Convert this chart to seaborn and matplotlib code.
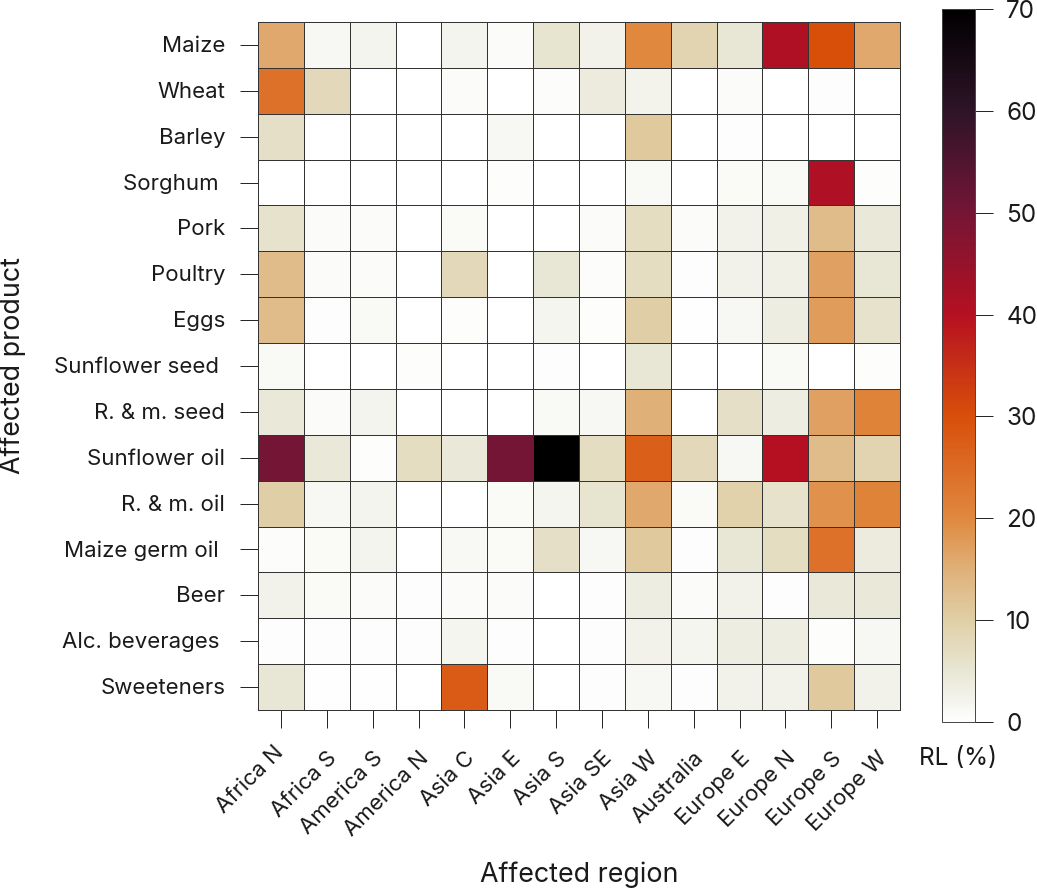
"""
Heatmap of relative losses (RL) per affected product and affected region.
"""

import numpy as np
import pandas as pd
import matplotlib
matplotlib.use("Agg")
import matplotlib.pyplot as plt
from matplotlib.colors import LinearSegmentedColormap
from matplotlib.transforms import ScaledTranslation
import seaborn as sns

W, H = 1037, 889

regions = ["Africa N", "Africa S", "America S", "America N", "Asia C", "Asia E", "Asia S",
           "Asia SE", "Asia W", "Australia", "Europe E", "Europe N", "Europe S", "Europe W"]
products = ["Maize", "Wheat", "Barley", "Sorghum ", "Pork", "Poultry", "Eggs", "Sunflower seed ",
            "R. & m. seed", "Sunflower oil", "R. & m. oil", "Maize germ oil ", "Beer",
            "Alc. beverages ", "Sweeteners"]

maize = [16, 1.5, 2, 0, 2, 0.7, 5.5, 2.5, 20, 9, 5, 41, 30, 16]
wheat = [24, 8, 0, 0, 0.8, 0, 0.6, 4, 2.2, 0, 0.7, 0, 0.3, 0]
barley = [6.5, 0, 0, 0, 0, 1.5, 0, 0, 11, 0, 0.4, 0, 0, 0]
sorghum = [0, 0, 0, 0, 0, 0.5, 0, 0, 1.2, 0, 1, 1.2, 41, 0.5]
pork = [6, 0.8, 0.8, 0, 1, 0, 0, 0.7, 7, 0.7, 2.5, 3, 13, 4.5]
poultry = [13, 0.8, 0.8, 0, 8, 0, 5, 0.6, 7, 0.3, 2.5, 3, 17, 5]
eggs = [13, 0.4, 1.2, 0, 0.5, 0, 1.8, 0.5, 10, 0.2, 1.5, 3.5, 17.5, 6]
sunflower_seed = [1.2, 0, 0, 0.5, 0, 0, 0.4, 0, 5, 0, 0, 1.2, 0, 0.5]
rm_seed = [4.5, 0.7, 2, 0, 0, 0, 1.2, 1.5, 15, 0, 6.5, 3.5, 17, 21]
sunflower_oil = [50, 4.5, 0.5, 7, 4.5, 50, 70, 7, 27, 8, 1.5, 40, 13, 9]
rm_oil = [10, 1.5, 2, 0, 0, 1, 1.8, 5.5, 16, 1, 9.5, 6, 19, 21]
maize_germ_oil = [0.6, 1, 2, 0, 1.3, 1, 6.5, 1.5, 11, 0.4, 5, 7, 24, 4]
beer = [2.5, 1, 0.7, 0.3, 0.8, 0.7, 0, 0.4, 3.5, 0.7, 2.5, 0.4, 4.5, 4.5]
alc_beverages = [0.4, 0.4, 0.4, 0.4, 1.8, 0.3, 0, 0.4, 2.5, 1.8, 3.5, 3.5, 0.5, 1.5]
sweeteners = [5, 0.2, 0.2, 0, 28, 1.2, 0, 0.4, 1.5, 0.3, 2.5, 2.5, 11, 2.5]

rows = [maize, wheat, barley, sorghum, pork, poultry, eggs, sunflower_seed, rm_seed,
        sunflower_oil, rm_oil, maize_germ_oil, beer, alc_beverages, sweeteners]

cbar_ticks = [0, 10, 20, 30, 40, 50, 60, 70]

# colours
stops = [(0, "#ffffff"), (2 / 70, "#f4f4ee"), (5 / 70, "#e8e6d4"), (10 / 70, "#e0cfa6"),
         (15 / 70, "#e0b078"), (20 / 70, "#e0883e"), (30 / 70, "#d84f0a"), (40 / 70, "#b51021"),
         (50 / 70, "#751535"), (60 / 70, "#2e1428"), (1, "#000000")]
cmap = LinearSegmentedColormap.from_list("rl", stops, N=512)


def axes_px(fig, left, top, right, bottom):
    """Add axes from pixel coordinates measured from the top left."""
    return fig.add_axes([left / W, 1 - bottom / H, (right - left) / W, (bottom - top) / H])


if __name__ == "__main__":
    sns.set_theme(style="white")
    plt.rcParams["font.family"] = ["Inter", "DejaVu Sans"]

    df = pd.DataFrame(np.array(rows, dtype=float), index=products, columns=regions)

    fig = plt.figure(figsize=(W / 100, H / 100), dpi=100)
    ax = axes_px(fig, 258, 22, 900, 710)
    cax = axes_px(fig, 942, 9, 975, 722)

    sns.heatmap(df, ax=ax, cbar_ax=cax, cmap=cmap, vmin=0, vmax=70,
                linewidths=0.55, linecolor="#333333", clip_on=False,
                cbar_kws={"ticks": cbar_ticks})

    ax.tick_params(axis="both", length=13, width=0.7, color="#222222", labelsize=16,
                   labelcolor="#1a1a1a", bottom=True, left=True)
    ax.set_yticklabels(products, rotation=0)
    ax.set_xticklabels(regions, rotation=45, ha="right", rotation_mode="anchor")
    ax.tick_params(axis="y", pad=10.5)
    ax.tick_params(axis="x", pad=10)

    # nudge labels; the first x label sits further left in the original
    for i, label in enumerate(ax.get_xticklabels()):
        dx, dy = (-8, 0) if i == 0 else (0, -6)
        label.set_transform(label.get_transform()
                            + ScaledTranslation(dx / 100, dy / 100, fig.dpi_scale_trans))
    shift_y = ScaledTranslation(0, -1 / 100, fig.dpi_scale_trans)
    for label in ax.get_yticklabels():
        label.set_transform(label.get_transform() + shift_y)

    ax.set_xlabel("")
    ax.set_ylabel("")

    cax.tick_params(length=13, width=0.7, color="#222222", labelsize=17.5,
                    labelcolor="#1a1a1a", pad=9.5, right=True)
    cbar = ax.collections[0].colorbar
    cbar.outline.set_visible(True)
    cbar.outline.set_edgecolor("#444444")
    cbar.outline.set_linewidth(0.7)

    fig.text(579 / W, 1 - 875 / H, "Affected region", ha="center", va="center",
             fontsize=19.3, color="#1a1a1a")
    fig.text(13 / W, 1 - 366 / H, "Affected product", ha="center", va="center",
             rotation=90, fontsize=19.3, color="#1a1a1a")
    fig.text(958 / W, 1 - 759 / H, "RL (%)", ha="center", va="center",
             fontsize=17.6, color="#1a1a1a")

    fig.savefig("out.png", dpi=100)
    plt.close(fig)
